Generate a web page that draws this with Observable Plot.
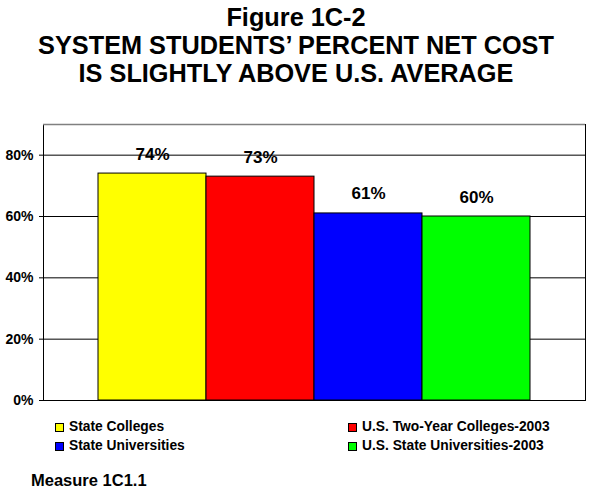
<!DOCTYPE html>
<html><head><meta charset="utf-8">
<script src="https://cdn.jsdelivr.net/npm/d3@7"></script>
<script src="https://cdn.jsdelivr.net/npm/@observablehq/plot@0.6"></script>
<style>
body{margin:0;background:#fff;font-family:"Liberation Sans",Arial,sans-serif;color:#000;}
#wrap{position:relative;width:592px;height:489px;overflow:hidden;}
#title{position:absolute;left:0;top:3px;width:592px;text-align:center;font-weight:bold;font-size:25.3px;line-height:28px;}
#chart{position:absolute;left:0;top:100px;}
.sw{position:absolute;width:7px;height:7px;border:1px solid #000;}
.lt{position:absolute;font-weight:bold;font-size:13.8px;line-height:16px;white-space:nowrap;}
#caption{position:absolute;left:31px;top:470px;font-weight:bold;font-size:16.5px;line-height:20px;white-space:nowrap;}
</style></head>
<body><div id="wrap">
<div id="title"></div>
<div id="chart"></div>
<div id="legend"></div>
<div id="caption"></div>
</div>
<script>
const titleLines = ["Figure 1C-2", "SYSTEM STUDENTS\u2019 PERCENT NET COST", "IS SLIGHTLY ABOVE U.S. AVERAGE"];
const categories = ["State Colleges", "U.S. Two-Year Colleges-2003", "State Universities", "U.S. State Universities-2003"];
const values = [74, 73, 61, 60];
const colors = ["#FFFF00", "#FF0000", "#0000FF", "#00FF00"];
const yTicks = [0, 20, 40, 60, 80];
const legendOrder = ["State Colleges", "U.S. Two-Year Colleges-2003", "State Universities", "U.S. State Universities-2003"];
const captionText = "Measure 1C1.1";

document.getElementById("title").innerHTML = titleLines.join("<br>");
document.getElementById("caption").textContent = captionText;

const data = categories.map((c, i) => ({name: c, value: values[i]}));

const chart = Plot.plot({
  width: 592,
  height: 310,
  marginTop: 24,
  marginBottom: 10,
  marginLeft: 43,
  marginRight: 7,
  style: {fontFamily: '"Liberation Sans", Arial, sans-serif', fontSize: "14px", fontWeight: "bold", color: "#000", background: "transparent"},
  x: {domain: categories, paddingInner: 0, paddingOuter: 0.5, axis: null},
  y: {domain: [0, 90], axis: null},
  color: {domain: categories, range: colors},
  marks: [
    Plot.ruleY(yTicks, {stroke: "#000", strokeWidth: 1}),
    Plot.barY(data, {x: "name", y: "value", fill: "name", stroke: "#000", strokeWidth: 1}),
    Plot.frame({stroke: "#000"}),
    Plot.ruleY([90], {stroke: "#808080", strokeWidth: 1.5}),
    Plot.axisY(yTicks, {label: null, tickFormat: d => d + "%", tickSize: 4, tickPadding: 6, fontSize: 14, fontWeight: "bold", fill: "#000", stroke: "#000"}),
    Plot.text(data, {x: "name", y: "value", text: d => d.value + "%", dy: -14, lineAnchor: "bottom", fontSize: 17, fontWeight: "bold", fill: "#000"})
  ]
});
document.getElementById("chart").appendChild(chart);

// legend (two columns, two rows)
const leg = document.getElementById("legend");
const colX = [55, 348];
const rowY = [427, 446];
legendOrder.forEach((name, i) => {
  const col = i % 2, row = Math.floor(i / 2);
  const sw = document.createElement("div");
  sw.className = "sw";
  sw.style.left = colX[col] + "px";
  sw.style.top = (rowY[row] - 4.5) + "px";
  sw.style.background = colors[categories.indexOf(name)];
  leg.appendChild(sw);
  const t = document.createElement("div");
  t.className = "lt";
  t.style.left = (colX[col] + 14) + "px";
  t.style.top = (rowY[row] - 8) + "px";
  t.textContent = name;
  leg.appendChild(t);
});
</script>
</body></html>
